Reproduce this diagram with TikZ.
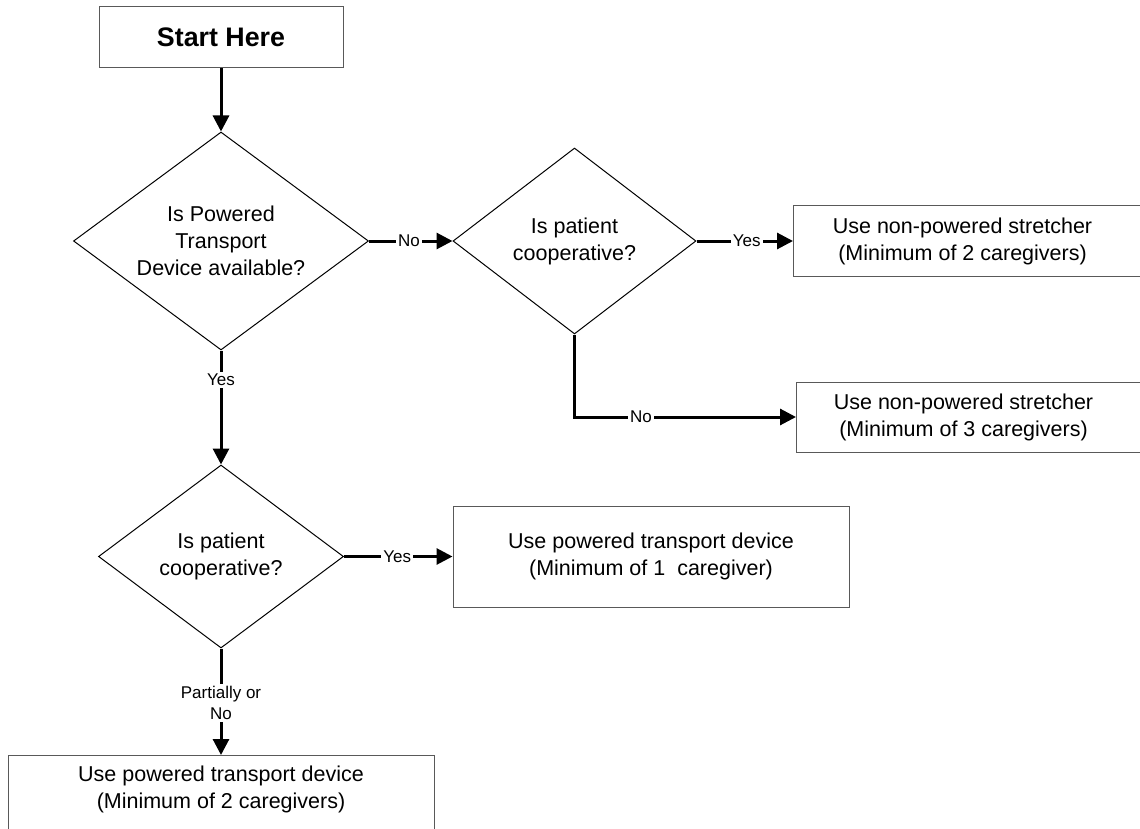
\documentclass[tikz,border=0pt]{standalone}
\usepackage{fontspec}
\setmainfont{Liberation Sans}
\usetikzlibrary{positioning,arrows.meta,shapes.geometric}

\begin{document}
\begin{tikzpicture}[
    x=0.5pt, y=-0.5pt,
    font=\fontsize{10.75}{13.5}\selectfont,
    every node/.style={align=center},
    box/.style={rectangle, draw=gray!70!black, line width=0.5pt, inner sep=2pt},
    decide/.style={diamond, draw, line width=0.5pt, inner sep=0pt, shape aspect=1.35},
    arr/.style={-{Triangle[length=8pt,width=8pt]}, line width=1.5pt},
    lbl/.style={fill=white, inner sep=1pt, font=\fontsize{8.5}{10.5}\selectfont},
    boxtext/.style={inner sep=0pt}
]
\useasboundingbox (0,0) rectangle (1140,829);
\clip (0,0) rectangle (1140,829);

% =========================================================
% Left column: powered device check
% =========================================================
\node[box, minimum width=122pt, minimum height=30.5pt,
      font=\fontsize{13.4}{16}\selectfont\bfseries] (start) at (221,37.5) {Start Here};
\node[decide, minimum width=147.5pt, minimum height=109pt] (q_ptd) at (221,241)
   {Is Powered\\Transport\\Device available?};
\node[decide, minimum width=122.5pt, minimum height=91.5pt] (q_coop2) at (221,556.5)
   {Is patient\\cooperative?};
\node[box, minimum width=198pt, minimum height=50.5pt] (pw_one) at (651,556.5)
   {Use powered transport device\\(Minimum of 1\ \ caregiver)};
\node[box, anchor=north, minimum width=213pt, minimum height=50.5pt,
      label={[boxtext, yshift=8.25pt]center:{Use powered transport device\\(Minimum of 2 caregivers)}}]
   (pw_two) at (221,755) {};

% =========================================================
% Right column: no powered device
% =========================================================
\node[decide, minimum width=121.5pt, minimum height=93pt] (q_coop1) at (574.5,241)
   {Is patient\\cooperative?};
\node[box, anchor=west, minimum width=188.5pt, minimum height=35.5pt,
      label={[boxtext, xshift=-9.75pt]center:{Use non-powered stretcher\\(Minimum of 2 caregivers)}}]
   (np_two) at (793,241) {};
\node[box, anchor=west, minimum width=188.5pt, minimum height=35pt,
      label={[boxtext, xshift=-10.75pt]center:{Use non-powered stretcher\\(Minimum of 3 caregivers)}}]
   (np_three) at (796,417) {};

% connectors
\draw[arr] (start.south) -- (q_ptd.north);
\draw[arr] (q_ptd.east) -- node[lbl, pos=0.48] {No} (q_coop1.west);
\draw[arr] (q_coop1.east) -- node[lbl, pos=0.52] {Yes} (np_two.west);
\draw[arr] (q_coop1.south) |- node[lbl, pos=0.65] {No} (np_three.west);
\draw[arr] (q_ptd.south) -- node[lbl, pos=0.26] {Yes} (q_coop2.north);
\draw[arr] (q_coop2.east) -- node[lbl, pos=0.49] {Yes} (pw_one.west);
\draw[arr] (q_coop2.south) -- node[lbl, pos=0.51] {Partially or\\No} (pw_two.north);

\end{tikzpicture}
\end{document}
